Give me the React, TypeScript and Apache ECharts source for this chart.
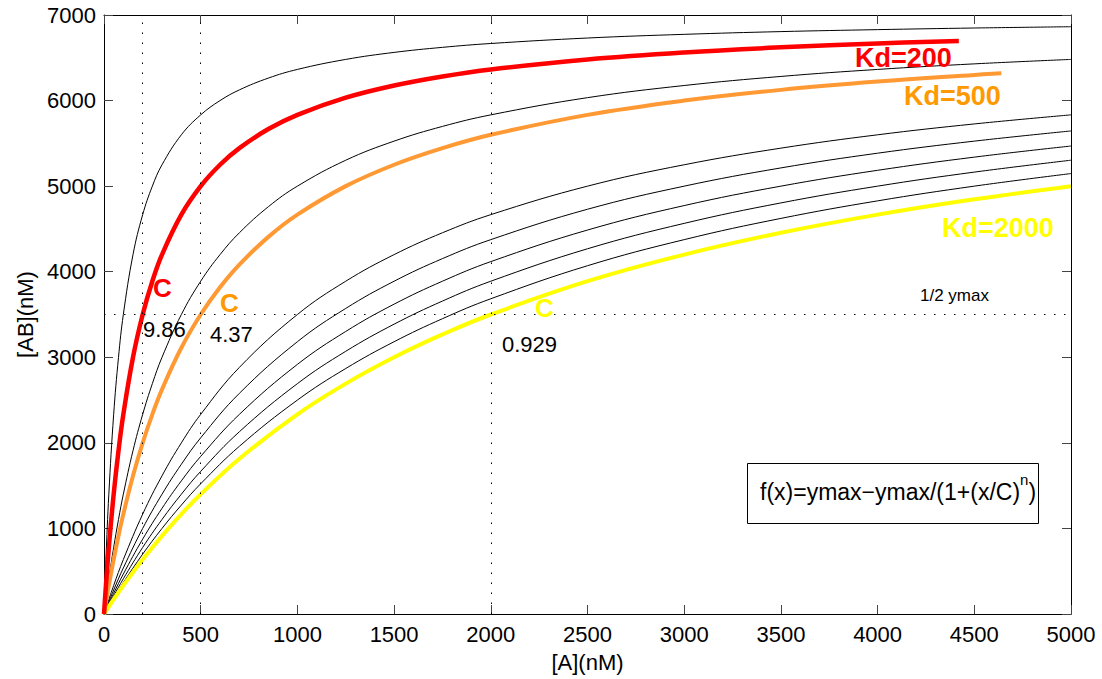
import React, { useEffect, useRef } from "react";
import * as echarts from "echarts";

// x samples (nM)
const X_STEEP = [0, 10, 25, 50, 75, 100, 150, 200, 250, 300, 400, 500, 600, 700, 850, 1000, 1250, 1500, 1750, 2000, 2500, 3000, 3500, 4000, 4500, 5000];
const X_RED = [0, 10, 25, 50, 75, 100, 150, 200, 250, 300, 400, 500, 600, 700, 850, 1000, 1250, 1500, 1750, 2000, 2500, 3000, 3500, 4000, 4420];
const X_ORANGE = [0, 10, 25, 50, 75, 100, 150, 200, 250, 300, 400, 500, 600, 700, 850, 1000, 1250, 1500, 1750, 2000, 2500, 3000, 3500, 4000, 4500, 4640];
const X_GENTLE = [0, 50, 100, 200, 300, 400, 500, 700, 1000, 1250, 1500, 1750, 2000, 2500, 3000, 3500, 4000, 4500, 5000];

// [AB](nM) values
const Y_KD100 = [0, 636, 1400, 2333, 3000, 3500, 4200, 4667, 5000, 5250, 5600, 5833, 6000, 6125, 6263, 6364, 6481, 6563, 6622, 6667, 6731, 6774, 6806, 6829, 6848, 6863];
const Y_KD200 = [0, 333, 778, 1400, 1909, 2333, 3000, 3500, 3889, 4200, 4667, 5000, 5250, 5444, 5667, 5833, 6034, 6176, 6282, 6364, 6481, 6563, 6622, 6667, 6697];
const Y_KD400 = [0, 171, 412, 778, 1105, 1400, 1909, 2333, 2692, 3000, 3500, 3889, 4200, 4455, 4760, 5000, 5303, 5526, 5698, 5833, 6034, 6176, 6282, 6364, 6429, 6481];
const Y_KD500 = [0, 137, 333, 636, 913, 1167, 1615, 2000, 2333, 2625, 3111, 3500, 3818, 4083, 4407, 4667, 5000, 5250, 5444, 5600, 5833, 6000, 6125, 6222, 6300, 6319];
const Y_KD1000 = [0, 333, 636, 1167, 1615, 2000, 2333, 2882, 3500, 3889, 4200, 4455, 4667, 5000, 5250, 5444, 5600, 5727, 5833];
const Y_KD1200 = [0, 280, 538, 1000, 1400, 1750, 2059, 2579, 3182, 3571, 3889, 4153, 4375, 4730, 5000, 5213, 5385, 5526, 5645];
const Y_KD1400 = [0, 241, 467, 875, 1235, 1556, 1842, 2333, 2917, 3302, 3621, 3889, 4118, 4487, 4773, 5000, 5185, 5339, 5469];
const Y_KD1600 = [0, 212, 412, 778, 1105, 1400, 1667, 2130, 2692, 3070, 3387, 3657, 3889, 4268, 4565, 4804, 5000, 5164, 5303];
const Y_KD1800 = [0, 189, 368, 700, 1000, 1273, 1522, 1960, 2500, 2869, 3182, 3451, 3684, 4070, 4375, 4623, 4828, 5000, 5147];
const Y_KD2000 = [0, 171, 333, 636, 913, 1167, 1400, 1815, 2333, 2692, 3000, 3267, 3500, 3889, 4200, 4455, 4667, 4846, 5000];

const X_MARKERS = [200, 500, 2000];
const Y_HALF = 3500;

const FONT = '"Liberation Sans", Arial, Helvetica, sans-serif';

function mk(name: string, xs: number[], ys: number[], color: string, width: number, z: number) {
  return {
    type: "line",
    name,
    data: xs.map((x, i) => [x, ys[i]]),
    showSymbol: false,
    symbol: "none",
    smooth: 0.4,
    lineStyle: { color, width },
    silent: true,
    z,
  };
}

function txt(text: string, x: number, y: number, color: string, size: number, bold = false) {
  return {
    type: "text",
    x,
    y,
    z: 20,
    silent: true,
    style: {
      text,
      fill: color,
      fontSize: size,
      fontFamily: FONT,
      fontWeight: bold ? "bold" : "normal",
      align: "left",
      verticalAlign: "middle",
      textAlign: "left",
      textVerticalAlign: "middle",
    },
  };
}

export default function App() {
  const ref = useRef<HTMLDivElement>(null);
  useEffect(() => {
    if (!ref.current) return;
    const chart = echarts.init(ref.current, undefined, { renderer: "svg" });
    const plain = (v: number) => String(v);
    const axisCommon = {
      type: "value",
      axisLine: { show: true, onZero: false, lineStyle: { color: "#000", width: 1 } },
      axisTick: { show: true, inside: true, length: 9, lineStyle: { color: "#444" } },
      splitLine: { show: false },
    };
    const first: any = mk("Kd=100", X_STEEP, Y_KD100, "#000", 1, 2);
    first.markLine = {
      silent: true,
      symbol: "none",
      label: { show: false },
      lineStyle: { type: [1.5, 8.5], color: "#000", width: 1 },
      data: [...X_MARKERS.map((v) => ({ xAxis: v })), { yAxis: Y_HALF }],
    };
    chart.setOption({
      animation: false,
      backgroundColor: "#fff",
      grid: { left: 104, right: 31, top: 15, bottom: 65, containLabel: false },
      xAxis: [
        {
          ...axisCommon,
          position: "bottom",
          min: 0,
          max: 5000,
          interval: 500,
          axisLabel: { fontSize: 22, color: "#000", fontFamily: FONT, margin: 9, formatter: plain },
          name: "[A](nM)",
          nameLocation: "middle",
          nameGap: 37,
          nameTextStyle: { fontSize: 22, color: "#000", fontFamily: FONT },
        },
        {
          ...axisCommon,
          position: "top",
          min: 0,
          max: 5000,
          interval: 500,
          axisLabel: { show: false },
        },
      ],
      yAxis: [
        {
          ...axisCommon,
          position: "left",
          min: 0,
          max: 7000,
          interval: 1000,
          axisLabel: { fontSize: 22, color: "#000", fontFamily: FONT, margin: 8, formatter: plain },
          name: "[AB](nM)",
          nameLocation: "middle",
          nameGap: 63,
          nameRotate: 90,
          nameTextStyle: { fontSize: 22, color: "#000", fontFamily: FONT },
        },
        {
          ...axisCommon,
          position: "right",
          min: 0,
          max: 7000,
          interval: 1000,
          axisLabel: { show: false },
        },
      ],
      series: [
        first,
        mk("Kd=400", X_STEEP, Y_KD400, "#000", 1, 2),
        mk("Kd=1000", X_GENTLE, Y_KD1000, "#000", 1, 2),
        mk("Kd=1200", X_GENTLE, Y_KD1200, "#000", 1, 2),
        mk("Kd=1400", X_GENTLE, Y_KD1400, "#000", 1, 2),
        mk("Kd=1600", X_GENTLE, Y_KD1600, "#000", 1, 2),
        mk("Kd=1800", X_GENTLE, Y_KD1800, "#000", 1, 2),
        mk("Kd=2000", X_GENTLE, Y_KD2000, "#FFFF00", 4, 3),
        mk("Kd=500", X_ORANGE, Y_KD500, "#FF9933", 4, 3),
        mk("Kd=200", X_RED, Y_KD200, "#FF0000", 4.5, 3),
      ],
      graphic: [
        txt("Kd=200", 855, 58, "#FF0000", 27, true),
        txt("Kd=500", 904, 96, "#FF9900", 27, true),
        txt("Kd=2000", 942, 228, "#FFFF00", 27, true),
        txt("C", 153, 288, "#FF0000", 26, true),
        txt("C", 220, 303, "#FF9900", 26, true),
        txt("C", 535, 308, "#FFFF00", 26, true),
        txt("9.86", 143, 329, "#000", 22),
        txt("4.37", 210, 334, "#000", 22),
        txt("0.929", 502, 344, "#000", 22),
        txt("1/2 ymax", 920, 295, "#000", 17),
        {
          type: "rect",
          z: 19,
          silent: true,
          shape: { x: 747.5, y: 463.5, width: 291, height: 60 },
          style: { fill: "#fff", stroke: "#000", lineWidth: 1 },
        },
        {
          type: "text",
          x: 760,
          y: 492,
          z: 20,
          silent: true,
          style: {
            text: "{a|f(x)=ymax\u2212ymax/(1+(x/C)}{s|n}{a|)}",
            fill: "#000",
            fontFamily: FONT,
            fontSize: 23,
            align: "left",
            verticalAlign: "middle",
            textAlign: "left",
            textVerticalAlign: "middle",
            rich: {
              a: { fontSize: 23, lineHeight: 40, fontFamily: FONT, fill: "#000" },
              s: { fontSize: 15, lineHeight: 15, verticalAlign: "top", fontFamily: FONT, fill: "#000" },
            },
          },
        },
      ],
    });
    return () => chart.dispose();
  }, []);
  return (
    <div
      ref={ref}
      style={{ position: "fixed", left: 0, top: 0, width: 1102, height: 679, background: "#fff" }}
    />
  );
}
